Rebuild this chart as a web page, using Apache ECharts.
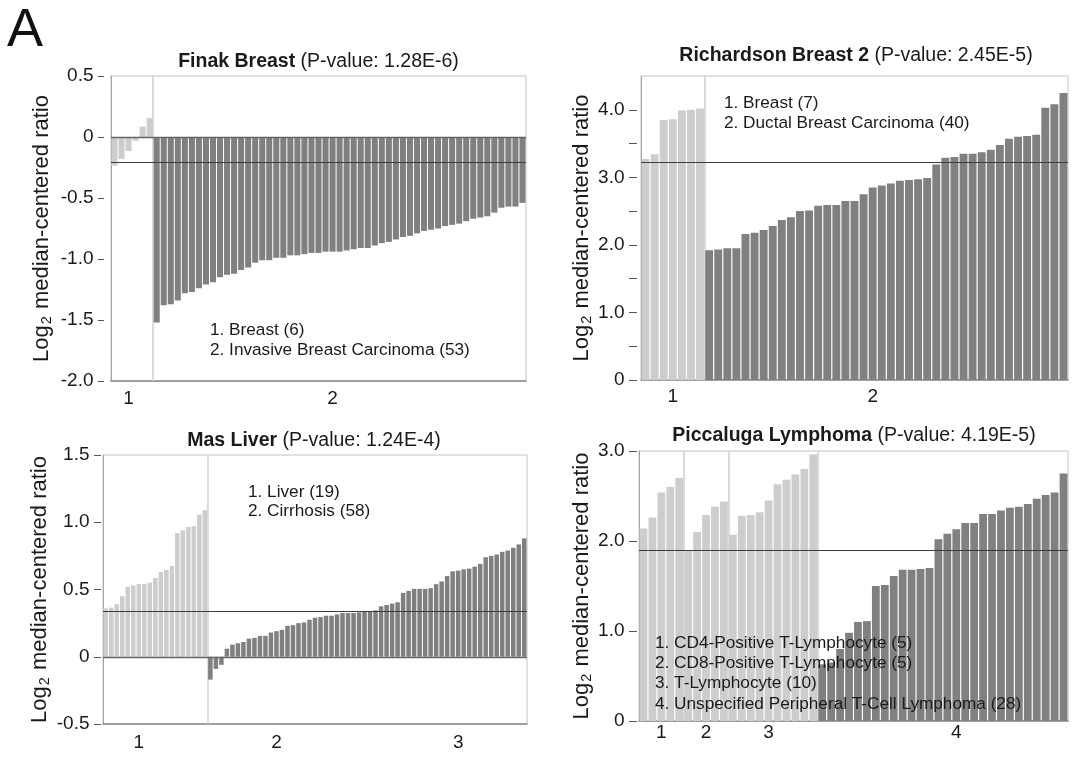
<!DOCTYPE html>
<html>
<head>
<meta charset="utf-8">
<script src="https://cdn.jsdelivr.net/npm/echarts@6/dist/echarts.min.js"></script>
<style>html,body{margin:0;padding:0;background:#fff}#c{width:1073px;height:762px}</style>
</head>
<body>
<div id="c"></div>
<script>
// ---------------- DATA ----------------
// Panel 1: Finak Breast
const finakTitle = ['Finak Breast', '(P-value: 1.28E-6)'];
const finakLegend = ['1. Breast (6)', '2. Invasive Breast Carcinoma (53)'];
const finakGroupLabels = ['1', '2'];
const finakBreast = [-0.235, -0.18, -0.115, -0.03, 0.085, 0.155];
const finakInvasive = [-1.52,-1.38,-1.37,-1.34,-1.28,-1.27,-1.24,-1.21,-1.19,-1.15,
  -1.13,-1.12,-1.09,-1.07,-1.03,-1.01,-1.01,-0.99,-0.99,-0.97,
  -0.97,-0.96,-0.95,-0.95,-0.94,-0.94,-0.94,-0.93,-0.92,-0.91,
  -0.91,-0.89,-0.87,-0.86,-0.84,-0.82,-0.81,-0.79,-0.77,-0.76,
  -0.75,-0.73,-0.72,-0.71,-0.69,-0.67,-0.66,-0.65,-0.62,-0.58,
  -0.57,-0.57,-0.54];
const finakMedian = -0.21;

// Panel 2: Richardson Breast 2
const richTitle = ['Richardson Breast 2', '(P-value: 2.45E-5)'];
const richLegend = ['1. Breast (7)', '2. Ductal Breast Carcinoma (40)'];
const richGroupLabels = ['1', '2'];
const richBreast = [3.27, 3.34, 3.85, 3.86, 3.99, 4.0, 4.02];
const richDuctal = [1.92,1.93,1.95,1.95,2.16,2.18,2.22,2.28,2.37,2.41,
  2.5,2.51,2.58,2.59,2.59,2.65,2.65,2.75,2.85,2.88,
  2.91,2.95,2.96,2.97,2.99,3.19,3.29,3.3,3.35,3.35,
  3.37,3.41,3.48,3.57,3.6,3.61,3.63,4.03,4.08,4.25];
const richMedian = 3.22;

// Panel 3: Mas Liver
const masTitle = ['Mas Liver', '(P-value: 1.24E-4)'];
const masLegend = ['1. Liver (19)', '2. Cirrhosis (58)'];
const masGroupLabels = ['1', '2', '3'];
const masLiver = [0.36,0.365,0.39,0.45,0.52,0.53,0.54,0.54,0.55,0.585,
  0.63,0.645,0.675,0.92,0.94,0.965,0.97,1.055,1.09];
const masCirrhosis = [-0.17,-0.09,-0.06,0.06,0.09,0.1,0.11,0.135,0.14,0.155,
  0.155,0.18,0.19,0.2,0.23,0.235,0.25,0.255,0.275,0.29,
  0.295,0.305,0.305,0.315,0.325,0.325,0.325,0.33,0.34,0.34,
  0.345,0.375,0.385,0.395,0.405,0.475,0.49,0.505,0.505,0.505,
  0.51,0.54,0.56,0.6,0.635,0.64,0.65,0.655,0.67,0.69,
  0.74,0.75,0.76,0.78,0.79,0.81,0.835,0.88];
const masMedian = 0.345;

// Panel 4: Piccaluga Lymphoma
const picTitle = ['Piccaluga Lymphoma', '(P-value: 4.19E-5)'];
const picLegend = ['1. CD4-Positive T-Lymphocyte (5)', '2. CD8-Positive T-Lymphocyte (5)',
  '3. T-Lymphocyte (10)', '4. Unspecified Peripheral T-Cell Lymphoma (28)'];
const picGroupLabels = ['1', '2', '3', '4'];
const picCD4 = [2.14, 2.26, 2.54, 2.6, 2.7];
const picCD8 = [1.9, 2.1, 2.29, 2.38, 2.44];
const picT = [2.07, 2.28, 2.29, 2.32, 2.45, 2.63, 2.68, 2.74, 2.8, 2.96];
const picPTCL = [0.63,0.65,0.8,0.98,1.1,1.11,1.5,1.51,1.61,1.68,
  1.68,1.69,1.7,2.02,2.08,2.13,2.2,2.2,2.3,2.3,
  2.34,2.37,2.38,2.41,2.47,2.51,2.54,2.75];
const picMedian = 1.9;

const yAxisName = ['Log', '2', ' median-centered ratio'];

// ---------------- STYLE / LAYOUT ----------------
const FONT = '"Liberation Sans", Arial, Helvetica, sans-serif';
const LIGHT = '#cdcdcd', DARK = '#808080';
const TXT = '#1a1a1a';

// tick range: [min, last tick], tick step, label step
const panels = [
  { title: finakTitle, legend: finakLegend, groupLabels: finakGroupLabels,
    groups: [finakBreast, finakInvasive], shades: [LIGHT, DARK], median: finakMedian,
    L: 111, T: 76, W: 415, H: 305, min: -2, max: 0.5, tickTop: 0.5, tickStep: 0.5, labelStep: 0.5, zero: true,
    titleX: 318.5, titleTop: 51.5, legX: 210, legTop: 320, legLH: 20, nameGap: 50, xMargin: 8,
    gap: '14%', labelIdx: [2, 31], yOff: 7, tickLen: 6 },
  { title: richTitle, legend: richLegend, groupLabels: richGroupLabels,
    groups: [richBreast, richDuctal], shades: [LIGHT, DARK], median: richMedian,
    L: 641, T: 76, W: 427, H: 304, min: 0, max: 4.5, tickTop: 4, tickStep: 0.5, labelStep: 1, zero: false,
    titleX: 856, titleTop: 45.5, legX: 724, legTop: 93, legLH: 20, nameGap: 41, xMargin: 7,
    gap: '13%', labelIdx: [3, 25], yOff: 4, tickLen: 8 },
  { title: masTitle, legend: masLegend, groupLabels: masGroupLabels,
    groups: [masLiver, masCirrhosis], shades: [LIGHT, DARK], median: masMedian,
    L: 103, T: 455, W: 424, H: 269, min: -0.5, max: 1.5, tickTop: 1.5, tickStep: 0.5, labelStep: 0.5, zero: true,
    titleX: 314, titleTop: 431, legX: 248, legTop: 482.5, legLH: 19, nameGap: 48, xMargin: 9,
    gap: '18%', labelIdx: [6, 31, 64], yOff: 2, tickLen: 7 },
  { title: picTitle, legend: picLegend, groupLabels: picGroupLabels,
    groups: [picCD4, picCD8, picT, picPTCL], shades: [LIGHT, LIGHT, LIGHT, DARK], median: picMedian,
    L: 639, T: 451, W: 429, H: 270, min: 0, max: 3, tickTop: 3, tickStep: 1, labelStep: 1, zero: false,
    titleX: 854, titleTop: 425.5, legX: 655, legTop: 633, legLH: 20.3, nameGap: 41, xMargin: 2,
    gap: '13%', labelIdx: [2, 7, 14, 35], yOff: 2, tickLen: 8 }
];

function steps(a, b, s) {
  const out = [];
  const n = Math.round((b - a) / s);
  for (let k = 0; k <= n; k++) out.push(+(a + k * s).toFixed(6));
  return out;
}

const grids = [], xAxes = [], yAxes = [], series = [];
const titles = [{ text: 'A', left: 7, top: 4, padding: 0,
  textStyle: { fontFamily: FONT, fontSize: 54, fontWeight: 'normal', color: '#111' } }];

panels.forEach((p, i) => {
  const items = [];
  const seps = [];
  let count = 0;
  p.groups.forEach((g, gi) => {
    g.forEach(v => items.push({ value: v, itemStyle: { color: p.shades[gi] } }));
    count += g.length;
    if (gi < p.groups.length - 1) seps.push(count);
  });
  const N = items.length;
  const cats = new Array(N).fill('');
  p.labelIdx.forEach((idx, k) => { cats[idx] = p.groupLabels[k]; });

  grids.push({ left: p.L, top: p.T, width: p.W, height: p.H, show: true,
    borderColor: '#c4c4c4', borderWidth: 1, containLabel: false });

  const xCat = xAxes.length;
  xAxes.push({ gridIndex: i, type: 'category', data: cats, position: 'bottom', boundaryGap: true,
    axisLine: { show: true, onZero: false, lineStyle: { color: '#8a8a8a', width: 1.5 } },
    axisTick: { show: false }, splitLine: { show: false },
    axisLabel: { interval: 0, margin: p.xMargin, fontSize: 19, fontFamily: FONT, color: TXT } });
  const xVal = xAxes.length;
  xAxes.push({ gridIndex: i, type: 'value', min: 0, max: N, show: false, position: 'bottom' });

  const yMain = yAxes.length;
  yAxes.push({ gridIndex: i, type: 'value', position: 'left', min: p.min, max: p.max, interval: p.tickStep,
    offset: p.yOff,
    axisLine: { show: false, onZero: false },
    axisTick: { show: true, length: p.tickLen, lineStyle: { color: '#555', width: 1 },
      customValues: steps(p.min, p.tickTop, p.tickStep) },
    splitLine: { show: false },
    axisLabel: { margin: p.tickLen + 4.5, fontSize: 19, fontFamily: FONT, color: TXT,
      customValues: steps(p.min, p.tickTop, p.labelStep),
      formatter: v => (Math.abs(v) < 1e-9 ? '0' : Number(v).toFixed(1)) },
    name: '{a|' + yAxisName[0] + '}{s|' + yAxisName[1] + '}{a|' + yAxisName[2] + '}',
    nameLocation: 'middle', nameRotate: 90, nameGap: p.nameGap,
    nameTextStyle: { fontFamily: FONT, fontSize: 22, color: TXT,
      rich: { a: { fontFamily: FONT, fontSize: 22, color: TXT },
              s: { fontFamily: FONT, fontSize: 14.5, color: TXT, padding: [10, 1, 0, 1] } } } });
  yAxes.push({ gridIndex: i, type: 'value', position: 'left', min: p.min, max: p.max,
    axisLine: { show: true, onZero: false, lineStyle: { color: '#a4a4a4', width: 1 } },
    axisTick: { show: false }, axisLabel: { show: false }, splitLine: { show: false } });

  const refLines = [{ yAxis: p.median, lineStyle: { color: '#3c3c3c', width: 1.2, type: 'solid' } }];
  if (p.zero) refLines.push({ yAxis: 0, lineStyle: { color: '#666', width: 1.4, type: 'solid' } });

  series.push({ type: 'bar', xAxisIndex: xCat, yAxisIndex: yMain, data: items,
    barCategoryGap: p.gap, z: 2, silent: true, animation: false,
    markLine: { silent: true, symbol: ['none', 'none'], label: { show: false }, z: 5,
      animation: false, data: refLines } });
  series.push({ type: 'line', xAxisIndex: xVal, yAxisIndex: yMain, data: [], z: 1, silent: true,
    animation: false, showSymbol: false,
    markLine: { silent: true, symbol: ['none', 'none'], label: { show: false }, z: 1, animation: false,
      lineStyle: { color: '#cfcfcf', width: 1.5, type: 'solid' },
      data: seps.map(s => ({ xAxis: s })) } });

  titles.push({ text: '{b|' + p.title[0] + '} {r|' + p.title[1] + '}', left: p.titleX, top: p.titleTop,
    textAlign: 'center', padding: 0,
    textStyle: { fontFamily: FONT, fontSize: 19.5, fontWeight: 'normal', color: TXT,
      rich: { b: { fontFamily: FONT, fontSize: 19.5, fontWeight: 'bold', color: TXT },
              r: { fontFamily: FONT, fontSize: 19.5, fontWeight: 'normal', color: TXT } } } });
  titles.push({ text: p.legend.join('\n'), left: p.legX, top: p.legTop, padding: 0,
    textStyle: { fontFamily: FONT, fontSize: 17.2, fontWeight: 'normal', color: TXT, lineHeight: p.legLH } });
});

const chart = echarts.init(document.getElementById('c'), null, { renderer: 'canvas' });
chart.setOption({
  animation: false,
  backgroundColor: '#fff',
  title: titles,
  grid: grids,
  xAxis: xAxes,
  yAxis: yAxes,
  series: series
});
</script>
</body>
</html>
